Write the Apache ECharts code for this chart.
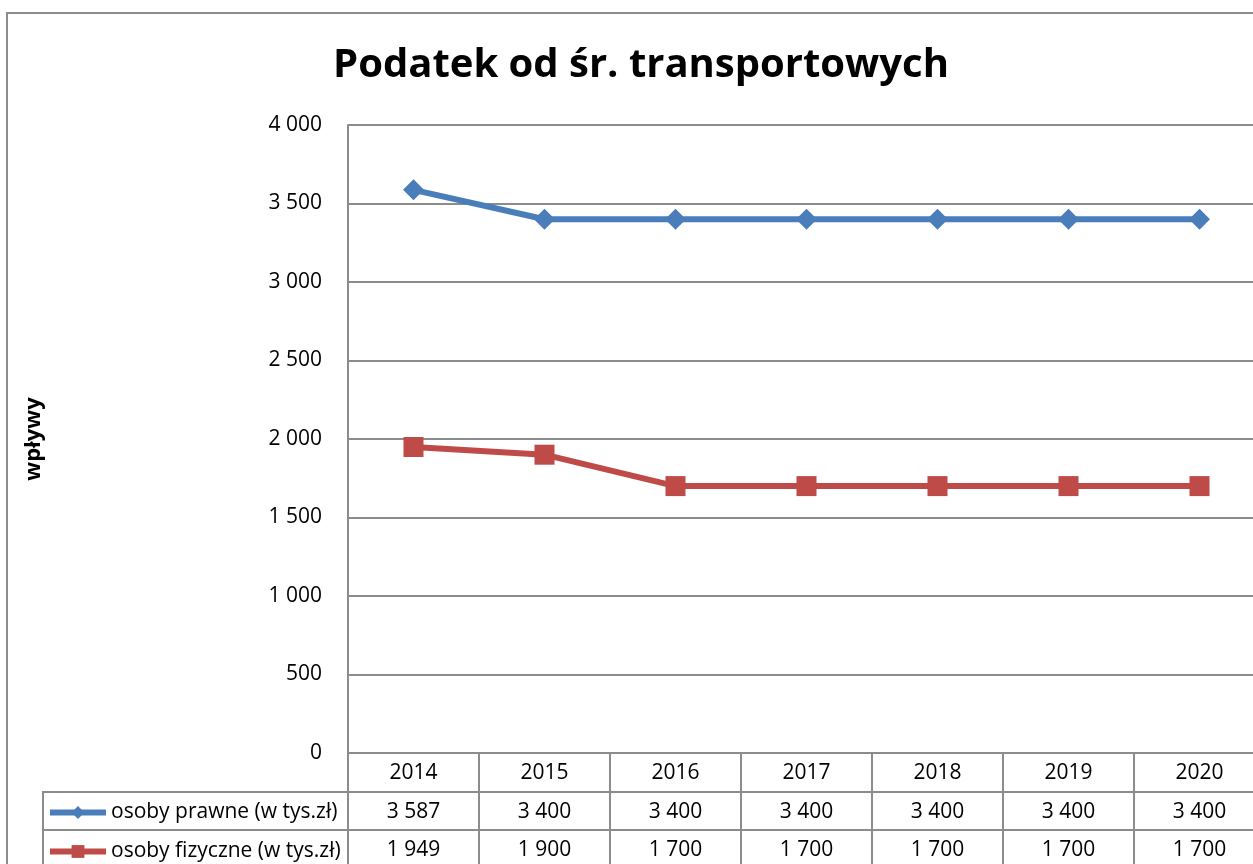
<!DOCTYPE html>
<html>
<head>
<meta charset="utf-8">
<script src="https://cdn.jsdelivr.net/npm/echarts@6/dist/echarts.min.js"></script>
<style>
    html, body { margin: 0; padding: 0; background: #fff; overflow: hidden; }
    /* the reference is cropped on the right, so the chart is wider than the window */
    #chart { width: 1280px; height: 864px; }
</style>
</head>
<body>
<div id="chart"></div>
<script>
const TITLE = 'Podatek od śr. transportowych';
const Y_NAME = 'wpływy';
const years = ['2014', '2015', '2016', '2017', '2018', '2019', '2020'];
const seriesNames = ['osoby prawne (w tys.zł)', 'osoby fizyczne (w tys.zł)'];
const prawne = [3587, 3400, 3400, 3400, 3400, 3400, 3400];
const fizyczne = [1949, 1900, 1700, 1700, 1700, 1700, 1700];

const FONT = 'Open Sans';
const FS = 21;
const GRAY = '#8c8c8c';
const BLUE = '#4a7ebb';
const RED = '#be4b48';

// thousands with a space, like the Polish Excel format
const fmt = v => String(v).replace(/\B(?=(\d{3})+(?!\d))/g, ' ');

const lineStyle = { color: GRAY, width: 2 };

function tableAxis(labels, offset, tickLen) {
    return {
        type: 'category',
        data: labels,
        position: 'bottom',
        offset: offset,
        boundaryGap: true,
        axisLine: { show: true, lineStyle },
        axisTick: { show: true, interval: 0, length: tickLen, lineStyle },
        axisLabel: { interval: 0, margin: 10, color: '#000', fontFamily: FONT, fontSize: FS },
        splitLine: { show: false },
    };
}

function legendRow(name, top) {
    return {
        orient: 'horizontal',
        left: 47,
        top: top,
        padding: 0,
        itemWidth: 56,
        itemHeight: 16,
        selectedMode: false,
        data: [name],
        lineStyle: { width: 6 },
        textStyle: { fontFamily: FONT, fontSize: FS, color: '#000' },
    };
}

const chart = echarts.init(document.getElementById('chart'));
chart.setOption({
    backgroundColor: '#fff',
    animation: false,
    title: {
        text: TITLE,
        left: 636,
        top: 41,
        textAlign: 'center',
        textStyle: { fontFamily: FONT, fontWeight: 'bold', fontSize: 40, color: '#000' },
    },
    grid: { left: 348, top: 125, width: 917, height: 628 },
    legend: [
        legendRow(seriesNames[0], 802),
        legendRow(seriesNames[1], 841),
    ],
    xAxis: [
        tableAxis(years, 0, 39),
        tableAxis(prawne.map(fmt), 39, 38),
        tableAxis(fizyczne.map(fmt), 77, 38),
    ],
    yAxis: {
        type: 'value',
        min: 0,
        max: 4000,
        interval: 500,
        name: Y_NAME,
        nameLocation: 'middle',
        nameGap: 303,
        nameTextStyle: { fontFamily: FONT, fontWeight: 'bold', fontSize: 22, color: '#000' },
        axisLine: { show: true, lineStyle },
        axisTick: { show: false },
        axisLabel: { margin: 26, color: '#000', fontFamily: FONT, fontSize: FS, formatter: fmt },
        splitLine: { show: true, lineStyle },
    },
    series: [
        {
            name: seriesNames[0],
            type: 'line',
            data: prawne,
            color: BLUE,
            symbol: 'diamond',
            symbolSize: 21,
            lineStyle: { width: 6, color: BLUE },
            itemStyle: { color: BLUE },
            z: 3,
        },
        {
            name: seriesNames[1],
            type: 'line',
            data: fizyczne,
            color: RED,
            symbol: 'rect',
            symbolSize: 20,
            lineStyle: { width: 6, color: RED },
            itemStyle: { color: RED },
            z: 3,
        },
    ],
    graphic: [
        // outer chart frame
        { type: 'rect', shape: { x: 7, y: 13, width: 1300, height: 900 }, style: { fill: 'none', stroke: GRAY, lineWidth: 2 }, z: -1 },
        // legend cells of the data table
        { type: 'rect', shape: { x: 43, y: 792, width: 305, height: 76 }, style: { fill: 'none', stroke: GRAY, lineWidth: 2 }, z: 1 },
        { type: 'line', shape: { x1: 43, y1: 830, x2: 348, y2: 830 }, style: { stroke: GRAY, lineWidth: 2 }, z: 1 },
    ],
});
</script>
</body>
</html>
